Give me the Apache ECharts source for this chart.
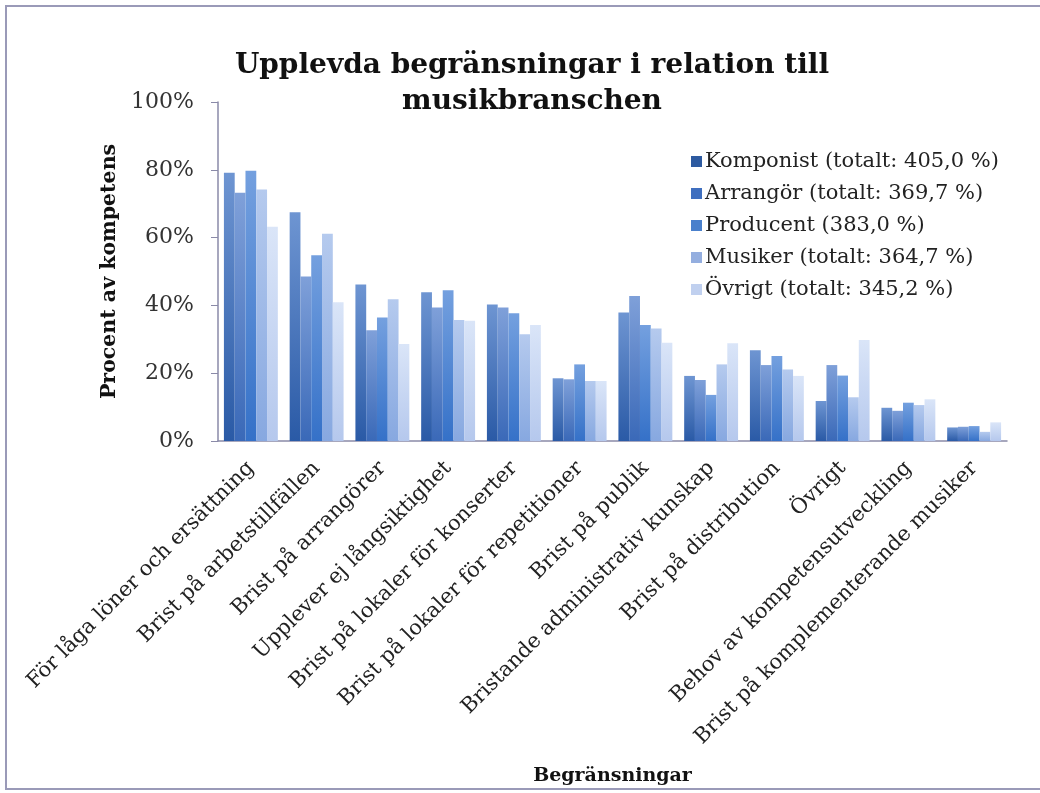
<!DOCTYPE html>
<html>
<head>
<meta charset="utf-8">
<script src="https://cdn.jsdelivr.net/npm/echarts@6/dist/echarts.min.js"></script>
<style>
  html, body { margin: 0; padding: 0; background: #fff; }
  #chart { width: 1040px; height: 793px; }
</style>
</head>
<body>
<div id="chart"></div>
<script>
const categories = [
  'För låga löner och ersättning',
  'Brist på arbetstillfällen',
  'Brist på arrangörer',
  'Upplever ej långsiktighet',
  'Brist på lokaler för konserter',
  'Brist på lokaler för repetitioner',
  'Brist på publik',
  'Bristande administrativ kunskap',
  'Brist på distribution',
  'Övrigt',
  'Behov av kompetensutveckling',
  'Brist på komplementerande musiker'
];
const seriesNames = [
  'Komponist (totalt: 405,0 %)',
  'Arrangör (totalt: 369,7 %)',
  'Producent (383,0 %)',
  'Musiker (totalt: 364,7 %)',
  'Övrigt (totalt: 345,2 %)'
];
const komponist = [79.1, 67.5, 46.2, 43.9, 40.3, 18.5, 37.9, 19.2, 26.8, 11.8, 9.8, 4.0];
const arrangor = [73.2, 48.5, 32.7, 39.4, 39.4, 18.2, 42.8, 18.0, 22.4, 22.4, 8.9, 4.2];
const producent = [79.7, 54.8, 36.4, 44.5, 37.7, 22.6, 34.2, 13.6, 25.1, 19.3, 11.3, 4.4];
const musiker = [74.2, 61.1, 41.8, 35.7, 31.5, 17.7, 33.2, 22.6, 21.1, 12.9, 10.6, 2.7];
const ovrigt = [63.2, 40.9, 28.6, 35.5, 34.2, 17.7, 29.0, 28.8, 19.2, 29.8, 12.3, 5.5];
const values = [komponist, arrangor, producent, musiker, ovrigt];

// top / bottom colours of each series
const colorPairs = [
  ['#6e95d2', '#2a5aa6'],
  ['#7fa0d9', '#3a69b8'],
  ['#74a0df', '#3571c8'],
  ['#b5caee', '#87a8e0'],
  ['#dae5f8', '#b5c8ed']
];
const legendColors = ['#2d5aa0', '#3f6fbf', '#4a80cc', '#94aedf', '#c0d0ef'];

const font = '"DejaVu Serif", "Liberation Serif", serif';
const chart = echarts.init(document.getElementById('chart'));

const option = {
  animation: false,
  backgroundColor: '#fff',
  textStyle: { fontFamily: font, color: '#222' },
  title: {
    text: 'Upplevda begränsningar i relation till\nmusikbranschen',
    left: 527,
    top: 43,
    textAlign: 'center',
    textStyle: { fontFamily: font, fontSize: 28, fontWeight: 'bold', color: '#111', lineHeight: 36 }
  },
  graphic: [{
    type: 'rect',
    shape: { x: 6, y: 6, width: 1060, height: 783 },
    style: { fill: 'none', stroke: '#9a9ab8', lineWidth: 2 },
    silent: true
  }],
  legend: {
    orient: 'vertical',
    left: 686,
    top: 146,
    itemGap: 11,
    itemWidth: 11,
    itemHeight: 11,
    icon: 'rect',
    data: seriesNames.map((n, i) => ({ name: n, itemStyle: { color: legendColors[i] } })),
    textStyle: { fontFamily: font, fontSize: 21, color: '#222', padding: [0, 0, 0, -2] }
  },
  grid: { left: 218, right: 33, top: 102, bottom: 352, containLabel: false },
  xAxis: {
    type: 'category',
    data: categories,
    name: 'Begränsningar',
    nameLocation: 'middle',
    nameGap: 326,
    nameTextStyle: { fontFamily: font, fontSize: 19, fontWeight: 'bold', color: '#111' },
    axisLine: { lineStyle: { color: '#8a8aa8', width: 1.5 } },
    axisTick: { alignWithLabel: false, length: 7, lineStyle: { color: '#8a8aa8' } },
    axisLabel: {
      interval: 0,
      rotate: 45,
      margin: 24,
      fontFamily: font,
      fontSize: 21,
      color: '#222'
    }
  },
  yAxis: {
    type: 'value',
    min: 0,
    max: 100,
    interval: 20,
    name: 'Procent av kompetens',
    nameLocation: 'middle',
    nameGap: 96,
    nameTextStyle: { fontFamily: font, fontSize: 20.5, fontWeight: 'bold', color: '#111' },
    axisLine: { show: true, lineStyle: { color: '#8a8aa8', width: 1.5 } },
    axisTick: { show: true, inside: false, length: 7, lineStyle: { color: '#8a8aa8' } },
    splitLine: { show: false },
    axisLabel: {
      formatter: '{value}%',
      margin: 24,
      fontFamily: font,
      fontSize: 22,
      color: '#333'
    }
  },
  series: values.map((v, i) => ({
    name: seriesNames[i],
    type: 'bar',
    data: v,
    barGap: '0%',
    barCategoryGap: '18%',
    itemStyle: {
      color: new echarts.graphic.LinearGradient(0, 0, 0, 1, [
        { offset: 0, color: colorPairs[i][0] },
        { offset: 1, color: colorPairs[i][1] }
      ])
    }
  }))
};
chart.setOption(option);
</script>
</body>
</html>
